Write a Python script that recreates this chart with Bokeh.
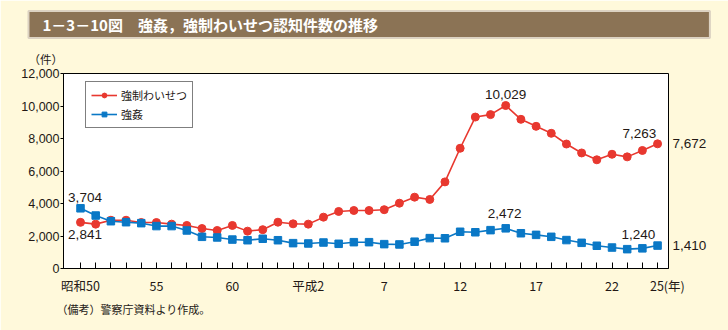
from bokeh.plotting import figure
from bokeh.models import (Range1d, FixedTicker, NumeralTickFormatter, Label,
                          Legend, LinearAxis, Title)
from bokeh.embed import file_html
from bokeh.resources import INLINE

# ---------------- data ----------------
year_labels = ["昭和50", "55", "60", "平成2", "7", "12", "17", "22", "25(年)"]
year_label_idx = [0, 5, 10, 15, 20, 25, 30, 35, 38]
n_years = 39  # 昭和50 (1975) .. 平成25 (2013)

indecent_assault = [2841, 2730, 2970, 2970, 2830, 2830, 2730, 2650, 2460, 2340,
                    2650, 2300, 2390, 2850, 2750, 2730, 3160, 3510, 3570, 3570,
                    3620, 4020, 4390, 4250, 5330, 7400, 9320, 9470, 10029, 9180,
                    8750, 8320, 7660, 7110, 6690, 7030, 6870, 7263, 7672]
rape = [3704, 3260, 2910, 2850, 2790, 2610, 2610, 2340, 1950, 1910,
        1780, 1740, 1830, 1740, 1560, 1540, 1600, 1520, 1620, 1620,
        1500, 1480, 1650, 1870, 1860, 2260, 2230, 2360, 2472, 2170,
        2070, 1950, 1750, 1580, 1400, 1290, 1190, 1240, 1410]

series_names = ["強制わいせつ", "強姦"]

# annotated values inside the plot: (series, index, text)
annotations = [
    ("rape", 0, "3,704"), ("indecent", 0, "2,841"),
    ("indecent", 28, "10,029"), ("indecent", 37, "7,263"),
    ("rape", 28, "2,472"), ("rape", 37, "1,240"),
]
# last values, shown at the right of the plot
last_values = [indecent_assault[-1], rape[-1]]

title_text = "1－3－10図　強姦，強制わいせつ認知件数の推移"
unit_text = "（件）"
note_text = "（備考）警察庁資料より作成。"

# ---------------- styles ----------------
RED = "#E8382F"
BLUE = "#0A78C6"
CREAM = "#FFF9DB"
TXT = "#231815"
NUM_FONT = "Liberation Sans"
JP_FONT = "Noto Sans CJK JP"

W, H = 728, 330
FL, FR, FT, FB = 63, 668, 73, 268  # frame edges in px

p = figure(width=W, height=H, output_backend="svg", toolbar_location=None,
           x_range=Range1d(-1.12, 38.72), y_range=Range1d(0, 12000),
           min_border_left=FL, min_border_right=W - FR,
           min_border_top=FT, min_border_bottom=H - FB)
p.border_fill_color = CREAM
p.background_fill_color = "white"
p.outline_line_color = "black"
p.outline_line_width = 1
p.xgrid.visible = False
p.ygrid.visible = False

# x axis
xa = p.xaxis[0]
xa.ticker = FixedTicker(ticks=list(range(n_years)))
xa.major_label_overrides = {i: "" for i in range(n_years)}
for i, lab in zip(year_label_idx, year_labels):
    xa.major_label_overrides[i] = lab
xa.major_label_overrides[38] = "\u00a0" * 7 + year_labels[-1]
xa.major_tick_in = 6
xa.major_tick_out = 0
xa.minor_tick_line_color = None
xa.major_label_standoff = 7
xa.major_label_text_font = JP_FONT
xa.major_label_text_font_size = "12.5px"
xa.major_label_text_color = TXT
xa.axis_line_color = "black"
xa.major_tick_line_color = "black"

# y axis
ya = p.yaxis[0]
ya.ticker = FixedTicker(ticks=list(range(0, 12001, 2000)))
ya.formatter = NumeralTickFormatter(format="0,0")
ya.major_tick_in = 0
ya.major_tick_out = 3
ya.minor_tick_line_color = None
ya.major_label_standoff = 1
ya.major_label_text_font = NUM_FONT
ya.major_label_text_font_size = "12.5px"
ya.major_label_text_color = TXT
ya.axis_line_color = "black"

# right axis carrying the latest values
ra = LinearAxis(ticker=FixedTicker(ticks=last_values),
                formatter=NumeralTickFormatter(format="0,0"))
ra.axis_line_color = None
ra.major_tick_line_color = None
ra.minor_tick_line_color = None
ra.major_tick_in = 0
ra.major_tick_out = 0
ra.major_label_standoff = 4
ra.major_label_text_font = NUM_FONT
ra.major_label_text_font_size = "13.5px"
ra.major_label_text_color = TXT
p.add_layout(ra, "right")

xs = list(range(n_years))
l1 = p.line(xs, indecent_assault, line_color=RED, line_width=1.6)
m1 = p.scatter(xs, indecent_assault, marker="circle", size=8,
               fill_color=RED, line_color=RED)
l2 = p.line(xs, rape, line_color=BLUE, line_width=1.6)
m2 = p.scatter(xs, rape, marker="square", size=7.5,
               fill_color=BLUE, line_color=BLUE)

legend = Legend(items=[(series_names[0], [l1, m1]), (series_names[1], [l2, m2])],
                location=(22, 140))
legend.label_text_font = JP_FONT
legend.label_text_font_size = "11px"
legend.label_text_color = TXT
legend.border_line_color = "black"
legend.border_line_width = 1
legend.background_fill_color = "white"
legend.background_fill_alpha = 1
legend.glyph_width = 26
legend.glyph_height = 12
legend.spacing = 3
legend.padding = 5
legend.margin = 0
legend.label_standoff = 4
legend.label_height = 12
p.add_layout(legend, "center")

# value labels
offsets = {
    ("rape", 0): (4.5, 11), ("indecent", 0): (4.5, -12),
    ("indecent", 28): (0, 11), ("indecent", 37): (-3, 17),
    ("rape", 28): (-1, 15), ("rape", 37): (-4, 14),
}
for ser, idx, txt in annotations:
    vals = rape if ser == "rape" else indecent_assault
    dx, dy = offsets[(ser, idx)]
    p.add_layout(Label(x=idx, y=vals[idx], text=txt, x_offset=dx, y_offset=dy,
                       text_align="center", text_baseline="middle",
                       text_font=NUM_FONT, text_font_size="13.5px",
                       text_color=TXT))

# titles (outside the frame)
unit_title = Title(text=unit_text, align="left", offset=-35, standoff=13,
                   text_font=JP_FONT, text_font_size="11.5px",
                   text_font_style="normal", text_color=TXT)
p.add_layout(unit_title, "above")
main_title = Title(text=title_text, align="left", offset=-35, standoff=9,
                   text_font=JP_FONT, text_font_size="15px",
                   text_font_style="bold", text_color="white",
                   background_fill_color="#8B7355",
                   border_line_color="#DCD2C2", border_line_width=2,
                   padding=dict(left=14, right=332, top=3, bottom=3))
p.add_layout(main_title, "above")
note_title = Title(text=note_text, align="left", offset=-7, standoff=2,
                   text_font=JP_FONT, text_font_size="11px",
                   text_font_style="normal", text_color=TXT)
p.add_layout(note_title, "below")

open("out.html", "w").write(file_html(p, INLINE))
